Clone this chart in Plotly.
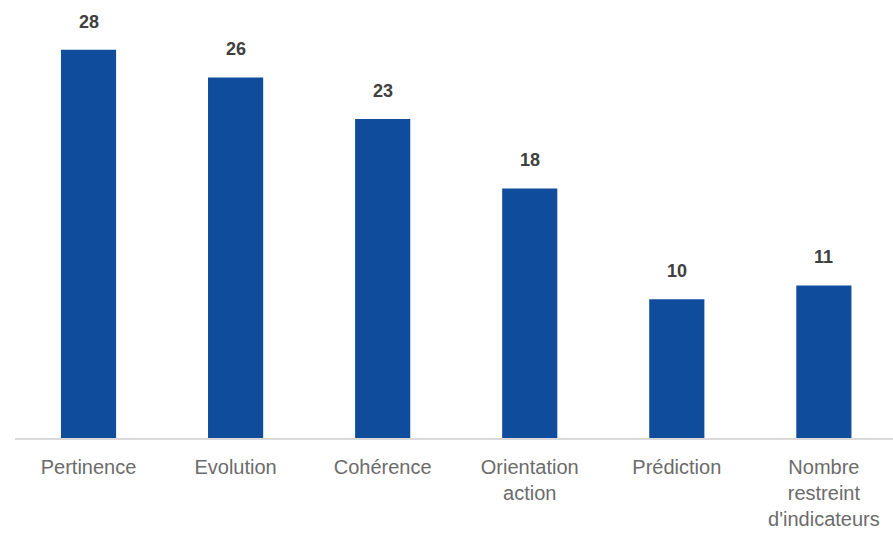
import plotly.graph_objects as go

categories = ["Pertinence", "Evolution", "Cohérence", "Orientation<br>action",
              "Prédiction", "Nombre<br>restreint<br>d'indicateurs"]
values = [28, 26, 23, 18, 10, 11]

bar_color = "#0f4c9c"

fig = go.Figure(
    go.Bar(
        x=categories,
        y=values,
        marker=dict(color=bar_color, line=dict(width=0)),
        width=0.375,
        hoverinfo="x+y",
    )
)

# value labels above each bar
for cat, val in zip(categories, values):
    fig.add_annotation(
        x=cat, y=val, text=f"<b>{val}</b>", showarrow=False,
        yanchor="bottom", yshift=16,
        font=dict(family="Liberation Sans, Arial, sans-serif", size=18, color="#404040"),
    )

fig.update_layout(
    width=893, height=541,
    margin=dict(l=15, r=0, t=22, b=103),
    paper_bgcolor="white", plot_bgcolor="white",
    showlegend=False,
    bargap=0.6,
    xaxis=dict(
        range=[-0.5, 5.47],
        showgrid=False, zeroline=False,
        showline=True, linecolor="#d9d9d9", linewidth=1.5,
        ticks="", ticklabelstandoff=10,
        tickfont=dict(family="Liberation Sans, Arial, sans-serif", size=20, color="#6b6b6b"),
        fixedrange=True,
    ),
    yaxis=dict(
        range=[0, 30], visible=False, showgrid=False, zeroline=False,
        fixedrange=True,
    ),
)

fig.write_html("out.html")
